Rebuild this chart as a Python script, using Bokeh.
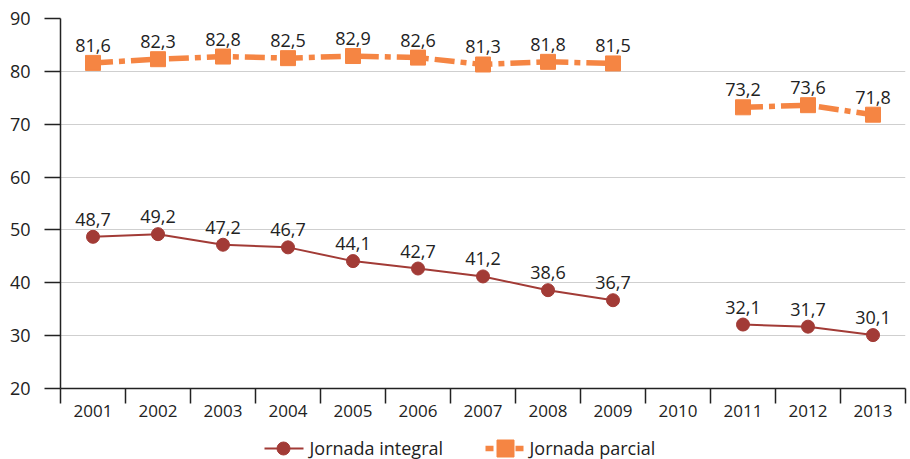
from bokeh.plotting import figure
from bokeh.models import ColumnDataSource, FixedTicker, Range1d, LabelSet
from bokeh.layouts import column
from bokeh.core.properties import value
from bokeh.embed import file_html
from bokeh.resources import INLINE
import numpy as np

years = ["2001", "2002", "2003", "2004", "2005", "2006", "2007", "2008", "2009",
         "2010", "2011", "2012", "2013"]
integral = [48.7, 49.2, 47.2, 46.7, 44.1, 42.7, 41.2, 38.6, 36.7, None, 32.1, 31.7, 30.1]
parcial = [81.6, 82.3, 82.8, 82.5, 82.9, 82.6, 81.3, 81.8, 81.5, None, 73.2, 73.6, 71.8]
y_ticks = [20, 30, 40, 50, 60, 70, 80, 90]
series_names = ["Jornada integral", "Jornada parcial"]

RED = "#a23b36"
ORANGE = "#f58543"
FONT = "Open Sans"
TEXT = "#222222"
DASH = "20 6 6 6"
LEFT, RIGHT = 60, 5

x = list(range(1, len(years) + 1))


def to_arr(vals):
    return np.array([np.nan if v is None else v for v in vals], dtype=float)


def labels(vals):
    return ["" if v is None else f"{v:.1f}".replace(".", ",") for v in vals]


src_i = ColumnDataSource(dict(x=x, y=to_arr(integral), t=labels(integral)))
src_p = ColumnDataSource(dict(x=x, y=to_arr(parcial), t=labels(parcial)))

p = figure(width=910, height=430, output_backend="svg", toolbar_location=None,
           x_range=Range1d(0.5, len(years) + 0.5), y_range=Range1d(20, 90))
p.min_border_left = LEFT
p.min_border_right = RIGHT
p.min_border_top = 18
p.min_border_bottom = 42
p.outline_line_color = None
p.background_fill_color = "white"

# x axis: year labels at centers, tick marks at category boundaries
p.xaxis.ticker = FixedTicker(ticks=x, minor_ticks=[i + 0.5 for i in range(0, len(years) + 1)])
p.xaxis.major_label_overrides = {i + 1: y for i, y in enumerate(years)}
p.xaxis.major_tick_line_color = None
p.xaxis.minor_tick_in = 0
p.xaxis.minor_tick_out = 15
p.xaxis.minor_tick_line_color = TEXT
p.xaxis.minor_tick_line_width = 1.5
p.xaxis.axis_line_color = TEXT
p.xaxis.axis_line_width = 1.5
p.xaxis.major_label_text_font = FONT
p.xaxis.major_label_text_font_size = "17px"
p.xaxis.major_label_text_color = TEXT
p.xaxis.major_label_standoff = 1
p.xgrid.grid_line_color = None

p.yaxis.ticker = FixedTicker(ticks=y_ticks)
p.yaxis.minor_tick_line_color = None
p.yaxis.major_tick_in = 0
p.yaxis.major_tick_out = 16
p.yaxis.major_tick_line_color = TEXT
p.yaxis.major_tick_line_width = 1.5
p.yaxis.axis_line_color = TEXT
p.yaxis.axis_line_width = 1.5
p.yaxis.major_label_text_font = FONT
p.yaxis.major_label_text_font_size = "18px"
p.yaxis.major_label_text_color = TEXT
p.yaxis.major_label_standoff = 14
p.ygrid.grid_line_color = "#cfcfcf"
p.ygrid.grid_line_width = 1

# series
p.line("x", "y", source=src_i, line_color=RED, line_width=2)
p.scatter("x", "y", source=src_i, marker="circle", size=13, fill_color=RED, line_color=RED)
p.line("x", "y", source=src_p, line_color=ORANGE, line_width=5.5, line_dash=DASH)
p.scatter("x", "y", source=src_p, marker="square", size=15, fill_color=ORANGE, line_color=ORANGE)

for src in (src_i, src_p):
    p.add_layout(LabelSet(x="x", y="y", text="t", source=src, y_offset=11,
                          text_align="center", text_font=value(FONT), text_font_size="18px",
                          text_color=TEXT))

# legend strip underneath the chart; its frame is aligned with the chart's,
# so the x range is expressed in page pixels
lg = figure(width=910, height=29, output_backend="svg", toolbar_location=None,
            x_range=Range1d(LEFT, 910 - RIGHT), y_range=Range1d(0, 29))
lg.axis.visible = False
lg.grid.visible = False
lg.outline_line_color = None
lg.min_border = 0
lg.min_border_left = LEFT
lg.min_border_right = RIGHT
ly = 11
lg.segment(x0=[264], y0=[ly], x1=[303], y1=[ly], line_color=RED, line_width=2)
lg.scatter(x=[283], y=[ly], marker="circle", size=13, fill_color=RED, line_color=RED)
lg.segment(x0=[485], y0=[ly], x1=[523], y1=[ly], line_color=ORANGE, line_width=5.5,
           line_dash="8 4 14 4")
lg.scatter(x=[505], y=[ly], marker="square", size=17, fill_color=ORANGE, line_color=ORANGE)
lg.text(x=[309, 529], y=[ly + 1, ly + 1], text=series_names, text_baseline="middle",
        text_align="left", text_font=value(FONT), text_font_size="18px", text_color=TEXT)

open("out.html", "w").write(file_html(column(p, lg, spacing=0), INLINE))
